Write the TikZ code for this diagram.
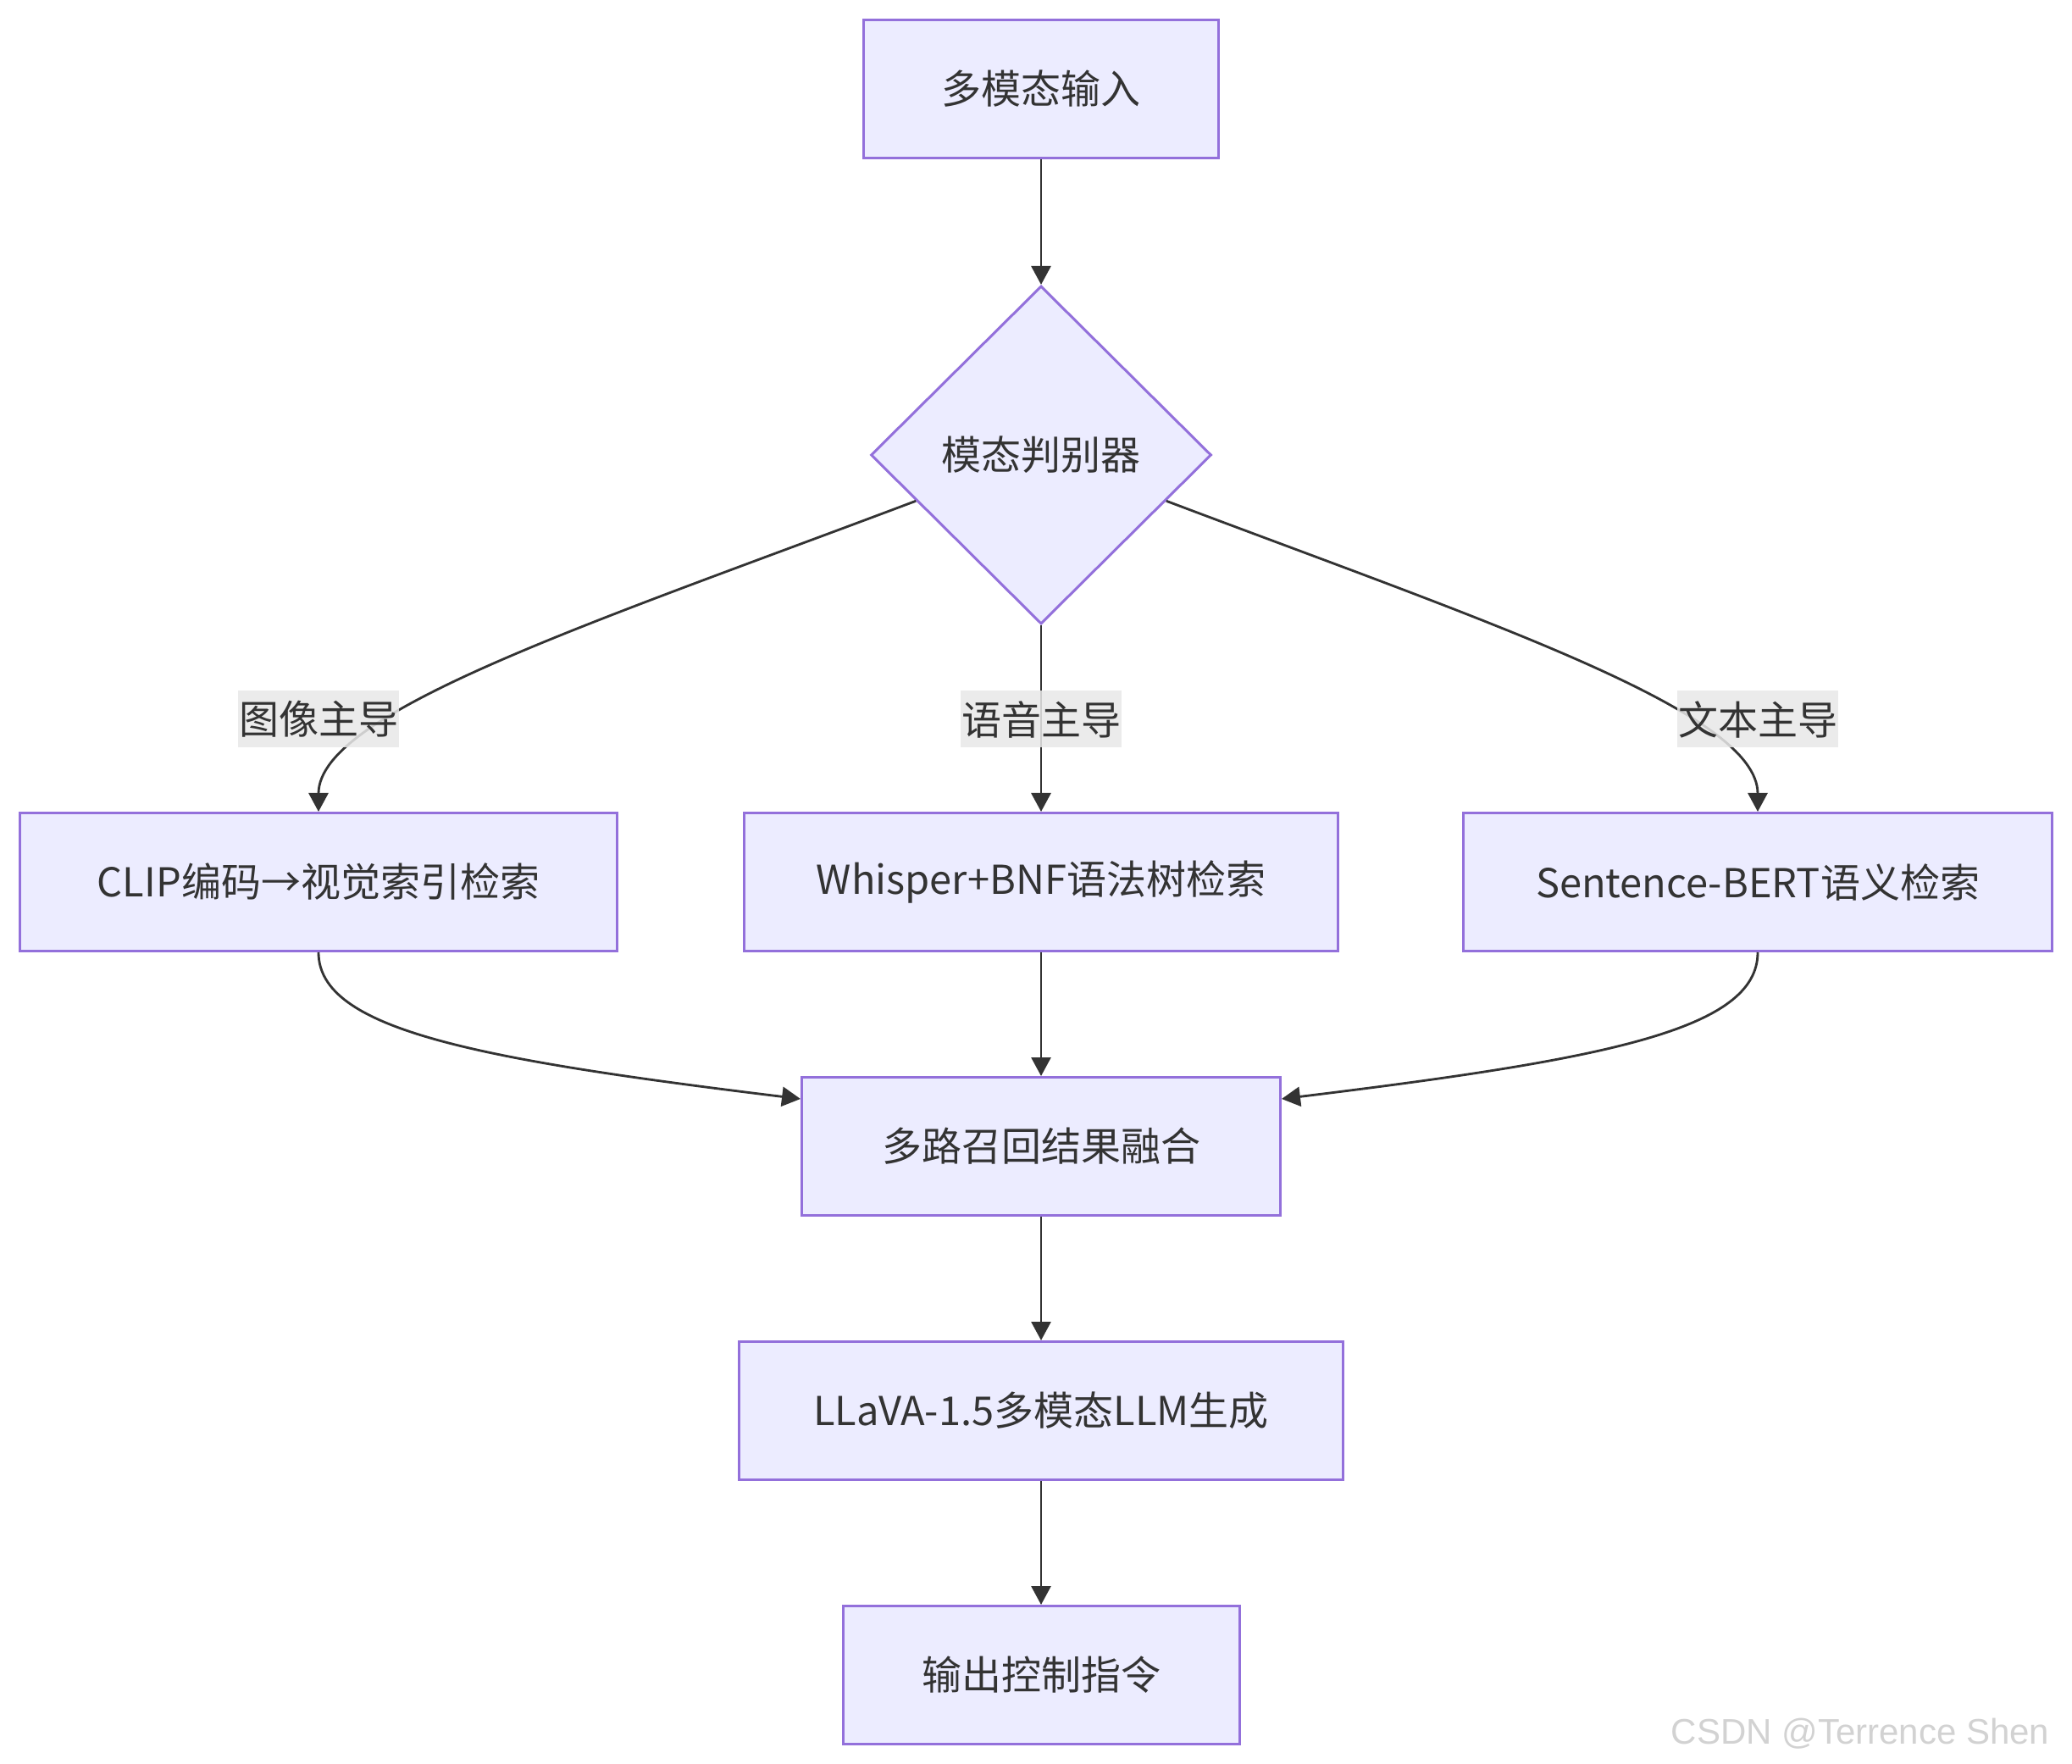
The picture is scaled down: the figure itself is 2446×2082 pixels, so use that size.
\documentclass[tikz,border=0pt]{standalone}
\usepackage{fontspec}
\newfontfamily\cjk{Noto Sans CJK SC}
\newfontfamily\wmfont{Liberation Sans}
\usetikzlibrary{shapes.geometric,arrows.meta,calc}
\definecolor{boxfill}{HTML}{ECECFF}
\definecolor{boxline}{HTML}{9370DB}
\definecolor{txt}{HTML}{333333}
\definecolor{lblfill}{HTML}{E8E8E8}
\definecolor{wm}{HTML}{D2D2D2}
\begin{document}
\begin{tikzpicture}[x=0.3pt,y=-0.3pt,
  proc/.style={draw=boxline,fill=boxfill,line width=0.9pt,inner sep=0pt,
    minimum height=48.9pt,font=\cjk\fontsize{14.1pt}{16pt}\selectfont,text=txt},
  decide/.style={diamond,draw=boxline,fill=boxfill,line width=0.9pt,inner sep=0pt,
    minimum width=120.6pt,minimum height=119.7pt,font=\cjk\fontsize{14.1pt}{16pt}\selectfont,text=txt},
  elabel/.style={fill=lblfill,fill opacity=0.85,text opacity=1,inner xsep=0.4pt,inner ysep=0pt,
    minimum height=20.1pt,font=\cjk\fontsize{14.1pt}{16pt}\selectfont,text=txt},
  conn/.style={draw=txt,line width=0.85pt,-{Triangle[length=6.6pt,width=6.9pt]}}]
\fill[white] (0,0) rectangle (2446,2082);
\useasboundingbox (0,0) rectangle (2446,2082);

\node[proc,minimum width=125.7pt] (in) at (1229,105) {多模态输入};
\node[decide] (dia) at (1229,537) {模态判别器};
\node[proc,minimum width=211.5pt] (img) at (376,1041) {CLIP编码→视觉索引检索};
\node[proc,minimum width=210.3pt] (aud) at (1229,1041) {Whisper+BNF语法树检索};
\node[proc,minimum width=208.5pt] (txtn) at (2075,1041) {Sentence-BERT语义检索};
\node[proc,minimum width=169.5pt] (fuse) at (1229,1353) {多路召回结果融合};
\node[proc,minimum width=213.9pt] (llm) at (1229,1665) {LLaVA-1.5多模态LLM生成};
\node[proc,minimum width=140.4pt] (out) at (1229,1977) {输出控制指令};

\draw[conn] (in) -- (dia);
\draw[conn] ($(dia.west)!0.27!(dia.south)$) .. controls (700,735) and (376,840) .. (img.north);
\draw[conn] (dia.south) -- (aud.north);
\draw[conn] ($(dia.east)!0.27!(dia.south)$) .. controls (1758,735) and (2075,840) .. (txtn.north);
\draw[conn] (img.south) .. controls (376,1215) and (560,1250) .. ($(fuse.north west)+(0,27)$);
\draw[conn] (aud.south) -- (fuse.north);
\draw[conn] (txtn.south) .. controls (2075,1215) and (1898,1250) .. ($(fuse.north east)+(0,27)$);
\draw[conn] (fuse) -- (llm);
\draw[conn] (llm) -- (out);

\node[elabel] (l1) at (376,849) {图像主导};
\node[elabel] (l2) at (1229,849) {语音主导};
\node[elabel] (l3) at (2075,849) {文本主导};

\node[anchor=base east,inner sep=0pt,text=wm,font=\wmfont\fontsize{12.6pt}{14pt}\selectfont] (wmk) at (2420,2058) {CSDN @Terrence Shen};
\end{tikzpicture}
\end{document}
